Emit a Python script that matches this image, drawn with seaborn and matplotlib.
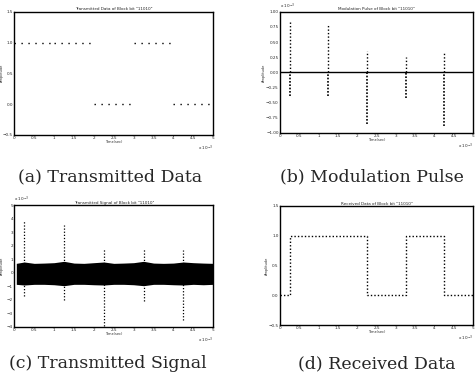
import matplotlib
matplotlib.use('Agg')
from matplotlib import pyplot as plt
import seaborn as sns
import pandas as pd

# (a) transmitted bits
bit_start = [0, 1, 2, 3, 4]
bit_end = [1, 2, 3, 4, 5]
bits = [1, 1, 0, 1, 0]

# (b) modulation pulse
pulse_pos = [0.25, 1.25, 2.25, 3.25, 4.25]
pulse_top = [0.86, 0.78, 0.36, 0.25, 0.33]
pulse_bot = [-0.39, -0.39, -0.86, -0.42, -0.89]

# (c) transmitted signal (noise band envelope + pulse spikes)
env_t = [0.05, 0.25, 0.5, 0.75, 1, 1.25, 1.5, 1.75, 2, 2.25, 2.5, 2.75,
         3, 3.25, 3.5, 3.75, 4, 4.25, 4.5, 4.75, 5]
env_hi = [0.7, 0.8, 0.7, 0.72, 0.75, 0.85, 0.72, 0.7, 0.75, 0.8, 0.7, 0.72,
          0.75, 0.85, 0.72, 0.7, 0.72, 0.8, 0.75, 0.72, 0.7]
env_lo = [-0.85, -0.9, -0.85, -0.85, -0.88, -0.95, -0.85, -0.85, -0.88, -0.9, -0.85, -0.85,
          -0.88, -0.95, -0.85, -0.85, -0.88, -0.9, -0.85, -0.88, -0.85]
spike_top = [3.9, 3.5, 1.8, 1.8, 1.7]
spike_bot = [-1.7, -2.0, -3.9, -2.1, -3.5]

# (d) received data
rx_t = [0, 0.25, 2.25, 3.25, 4.25, 5]
rx_v = [0, 1, 0, 1, 0, 0]

xticks = [0, 0.5, 1, 1.5, 2, 2.5, 3, 3.5, 4, 4.5, 5]
xticklabels = ['0', '0.5', '1', '1.5', '2', '2.5', '3', '3.5', '4', '4.5', '5']

sns.set_style('white')
plt.rcParams['font.family'] = ['DejaVu Sans']

fig = plt.figure(figsize=(4.77, 3.82), dpi=100)
ax_a = fig.add_axes([0.03, 0.647, 0.417, 0.322])
ax_b = fig.add_axes([0.587, 0.652, 0.405, 0.317])
ax_c = fig.add_axes([0.03, 0.144, 0.417, 0.319])
ax_d = fig.add_axes([0.587, 0.149, 0.405, 0.312])

titles = ['Transmitted Data of Block bit "11010"',
          'Modulation Pulse of Block bit "11010"',
          'Transmitted Signal of Block bit "11010"',
          'Received Data of Block bit "11010"']

for ax, ttl in zip([ax_a, ax_b, ax_c, ax_d], titles):
    ax.set_xlim(0, 5)
    ax.set_xticks(xticks)
    ax.set_xticklabels(xticklabels)
    ax.tick_params(direction='in', length=2, width=0.6, labelsize=3, pad=1)
    ax.set_title(ttl, fontsize=3, pad=1)
    ax.text(1.0, -0.07, 'x 10$^{-3}$', transform=ax.transAxes, fontsize=3, ha='right', va='top')
    for s in ax.spines.values():
        s.set_color('black')
        s.set_linewidth(1.0)

# (a)
ax_a.hlines(bits, bit_start, bit_end, colors='black', linestyles=(0, (1, 4)), linewidth=1.0)
ax_a.set_ylim(-0.5, 1.5)
ax_a.set_yticks([-0.5, 0, 0.5, 1, 1.5])

# (b)
ax_b.vlines(pulse_pos, 0, pulse_top, colors='black', linestyles=(0, (1, 1.5)), linewidth=1.0)
ax_b.vlines(pulse_pos, pulse_bot, 0, colors='black', linestyles=(0, (1, 1)), linewidth=1.2)
ax_b.axhline(0, color='black', linewidth=1.0)
ax_b.set_ylim(-1, 1)
ax_b.set_yticks([-1, -0.75, -0.5, -0.25, 0, 0.25, 0.5, 0.75, 1])
ax_b.text(0.0, 1.01, 'x 10$^{-3}$', transform=ax_b.transAxes, fontsize=3, ha='left', va='bottom')

# (c)
ax_c.fill_between(env_t, env_lo, env_hi, color='black', linewidth=0)
ax_c.vlines(pulse_pos, 0, spike_top, colors='black', linestyles=(0, (1, 1.5)), linewidth=0.9)
ax_c.vlines(pulse_pos, spike_bot, 0, colors='black', linestyles=(0, (1, 1.5)), linewidth=0.9)
ax_c.set_ylim(-4, 5)
ax_c.set_yticks([-4, -3, -2, -1, 0, 1, 2, 3, 4, 5])
ax_c.text(0.0, 1.01, 'x 10$^{-3}$', transform=ax_c.transAxes, fontsize=3, ha='left', va='bottom')

# (d)
df_d = pd.DataFrame({'t': rx_t, 'v': rx_v})
sns.lineplot(data=df_d, x='t', y='v', ax=ax_d, drawstyle='steps-post',
             color='black', linestyle=(0, (1, 1.5)), linewidth=1.0)
ax_d.set_ylim(-0.5, 1.5)
ax_d.set_yticks([-0.5, 0, 0.5, 1, 1.5])

for ax in [ax_a, ax_b, ax_c, ax_d]:
    ax.set_xlabel('Time(sec)', fontsize=2.5, labelpad=0)
    ax.set_ylabel('Amplitude', fontsize=2.5, labelpad=0)
for ax in [ax_a, ax_c]:
    ax.yaxis.set_label_coords(-0.05, 0.5)

cap = dict(fontsize=12.5, family='DejaVu Serif', ha='center', va='center')
fig.text(0.23, 1 - 177 / 382, '(a) Transmitted Data', **cap)
fig.text(0.78, 1 - 177 / 382, '(b) Modulation Pulse', **cap)
fig.text(0.225, 1 - 364 / 382, '(c) Transmitted Signal', **cap)
fig.text(0.79, 1 - 364 / 382, '(d) Received Data', **cap)

fig.savefig('out.png', dpi=100, facecolor='white')
